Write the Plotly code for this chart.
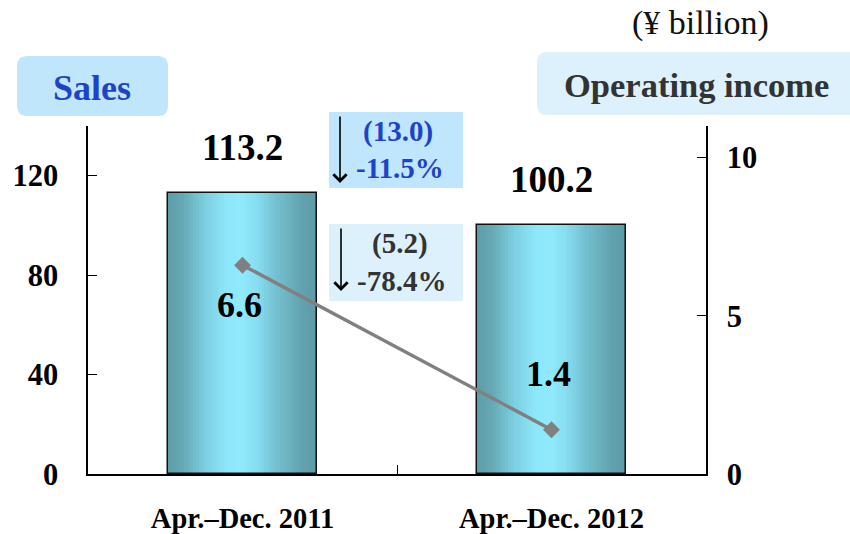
import numpy as np
import plotly.graph_objects as go

# ---------------- data ----------------
periods = ["Apr.–Dec. 2011", "Apr.–Dec. 2012"]
sales = [113.2, 100.2]
operating_income = [6.6, 1.4]
sales_labels = ["113.2", "100.2"]
oi_labels = ["6.6", "1.4"]
sales_change = ["(13.0)", "-11.5%"]
oi_change = ["(5.2)", "-78.4%"]
sales_ticks = [0, 40, 80, 120]
oi_ticks = [0, 5, 10]

# ---------------- layout geometry ----------------
W, H = 850, 534
L, R, T, B = 88, 706, 126, 474
FONT = "Liberation Serif, Times New Roman, serif"


def xp(px):
    return (px - L) / (R - L)


def yp(py):
    return (B - py) / (B - T)


fig = go.Figure()

# gradient bars built from narrow overlapping strips
bar_w = 0.48
N = 48
stops_t = [0.0, 0.1, 0.25, 0.4, 0.5, 0.6, 0.75, 0.9, 1.0]
stops_c = ["#5d9da8", "#66a9b5", "#7ccfe0", "#8ee8fb", "#8fe9fb",
           "#86ddef", "#71bccb", "#62a3af", "#5c9aa6"]


def hex2rgb(h):
    h = h.lstrip("#")
    return [int(h[i:i + 2], 16) for i in (0, 2, 4)]


rgbs = np.array([hex2rgb(c) for c in stops_c], dtype=float)
step = bar_w / N
for i in range(N):
    t = (i + 0.5) / N
    c = [int(round(np.interp(t, stops_t, rgbs[:, k]))) for k in range(3)]
    wstrip = step * 1.6 if i < N - 1 else step
    fig.add_trace(go.Bar(
        x=periods, y=sales, width=wstrip, offset=-bar_w / 2 + i * step,
        marker=dict(color=f"rgb({c[0]},{c[1]},{c[2]})", line=dict(width=0)),
        showlegend=False, hoverinfo="skip"))

# outline
fig.add_trace(go.Bar(
    x=periods, y=sales, width=bar_w,
    marker=dict(color="rgba(0,0,0,0)", line=dict(color="#111111", width=1.5)),
    showlegend=False, hoverinfo="skip"))

# operating income line
fig.add_trace(go.Scatter(
    x=periods, y=operating_income, yaxis="y2", mode="lines+markers",
    line=dict(color="#808080", width=3.5),
    marker=dict(symbol="diamond", size=13, color="#808080"),
    showlegend=False, hoverinfo="skip"))

C = dict(xanchor="center", yanchor="middle", showarrow=False)
annotations = []
# sales value labels
for p, v, s in zip(periods, sales, sales_labels):
    annotations.append(dict(x=p, y=v, xref="x", yref="y", text=f"<b>{s}</b>",
                            yshift=45, font=dict(family=FONT, size=37, color="#000"), **C))
# operating income labels
for p, v, s, sh in zip(periods, operating_income, oi_labels, [-40, 56]):
    annotations.append(dict(x=p, y=v, xref="x", yref="y2", text=f"<b>{s}</b>",
                            yshift=sh, xshift=-3,
                            font=dict(family=FONT, size=36, color="#000"), **C))

# change boxes text
blue = "#1d44c8"
dark = "#333333"
annotations += [
    dict(x=xp(398), y=yp(131), xref="paper", yref="paper", text=f"<b>{sales_change[0]}</b>",
         font=dict(family=FONT, size=29, color=blue), **C),
    dict(x=xp(400), y=yp(168), xref="paper", yref="paper", text=f"<b>{sales_change[1]}</b>",
         font=dict(family=FONT, size=29, color=blue), **C),
    dict(x=xp(400), y=yp(243), xref="paper", yref="paper", text=f"<b>{oi_change[0]}</b>",
         font=dict(family=FONT, size=29, color=dark), **C),
    dict(x=xp(401), y=yp(281), xref="paper", yref="paper", text=f"<b>{oi_change[1]}</b>",
         font=dict(family=FONT, size=29, color=dark), **C),
    # titles
    dict(x=xp(92), y=yp(88), xref="paper", yref="paper", text="<b>Sales</b>",
         font=dict(family=FONT, size=36, color=blue), **C),
    dict(x=xp(696), y=yp(85), xref="paper", yref="paper", text="<b>Operating income</b>",
         font=dict(family=FONT, size=34.5, color=dark), **C),
    dict(x=xp(700), y=yp(23), xref="paper", yref="paper", text="(¥ billion)",
         font=dict(family=FONT, size=34, color="#111"), **C),
    # arrows
    dict(x=xp(340), y=yp(183), xref="paper", yref="paper", text="", showarrow=True,
         ax=0, ay=-68, arrowhead=4, arrowsize=1.6, arrowwidth=1.6, arrowcolor="#000",
         standoff=0, startstandoff=0),
    dict(x=xp(341), y=yp(291), xref="paper", yref="paper", text="", showarrow=True,
         ax=0, ay=-64, arrowhead=4, arrowsize=1.6, arrowwidth=1.6, arrowcolor="#000",
         standoff=0, startstandoff=0),
]


def rrect(x0, y0, x1, y1, r):
    # rounded rectangle path in paper coords, pixel inputs
    rx = r / (R - L)
    ry = r / (B - T)
    X0, X1 = xp(x0), xp(x1)
    Y0, Y1 = yp(y1), yp(y0)  # bottom, top
    return (f"M{X0 + rx},{Y1} L{X1 - rx},{Y1} Q{X1},{Y1} {X1},{Y1 - ry} "
            f"L{X1},{Y0 + ry} Q{X1},{Y0} {X1 - rx},{Y0} L{X0 + rx},{Y0} "
            f"Q{X0},{Y0} {X0},{Y0 + ry} L{X0},{Y1 - ry} Q{X0},{Y1} {X0 + rx},{Y1} Z")


shapes = [
    dict(type="rect", xref="paper", yref="paper", x0=xp(329), x1=xp(463),
         y0=yp(188), y1=yp(112), fillcolor="#bfe6fd", line=dict(width=0), layer="below"),
    dict(type="rect", xref="paper", yref="paper", x0=xp(329), x1=xp(463),
         y0=yp(301), y1=yp(224), fillcolor="#dcf1fc", line=dict(width=0), layer="below"),
    dict(type="path", xref="paper", yref="paper", path=rrect(17, 56, 168, 116, 10),
         fillcolor="#c0e6fc", line=dict(width=0), layer="below"),
    dict(type="path", xref="paper", yref="paper", path=rrect(537, 52, 860, 115, 10),
         fillcolor="#dcf1fb", line=dict(width=0), layer="below"),
]

tick_common = dict(showline=True, linecolor="#000", linewidth=1.5, ticks="inside",
                   ticklen=9, tickwidth=1, tickcolor="#000", showgrid=False,
                   zeroline=False, automargin=False)

fig.update_layout(
    width=W, height=H,
    margin=dict(l=L, r=W - R, t=T, b=H - B, pad=0, autoexpand=False),
    paper_bgcolor="white", plot_bgcolor="white",
    barmode="overlay", bargap=0,
    showlegend=False,
    font=dict(family=FONT, color="#000"),
    annotations=annotations,
    shapes=shapes,
    xaxis=dict(type="category", range=[-0.5, 1.5], tickson="boundaries",
               tickfont=dict(family=FONT, size=28.5, color="#000", weight="bold"),
               ticklabelstandoff=18, **tick_common),
    yaxis=dict(range=[0, 140], tickvals=sales_ticks,
               tickfont=dict(family=FONT, size=30.5, color="#000", weight="bold"),
               ticklabelstandoff=22, **tick_common),
    yaxis2=dict(range=[0, 11], tickvals=oi_ticks, overlaying="y", side="right",
                tickfont=dict(family=FONT, size=30.5, color="#000", weight="bold"),
                ticklabelstandoff=13, **tick_common),
)

fig.write_html("out.html")
